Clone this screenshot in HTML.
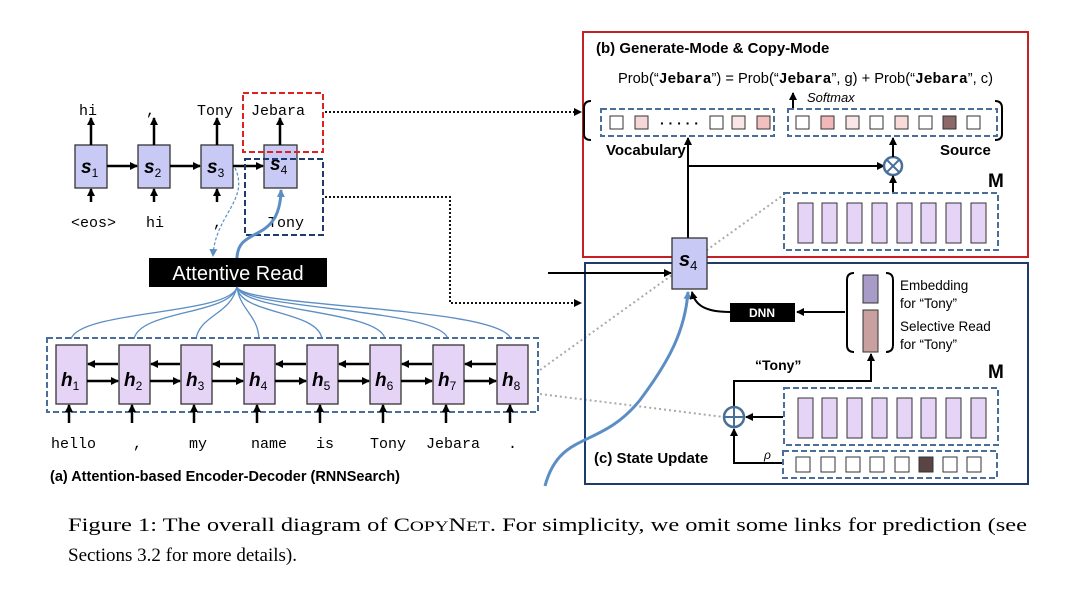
<!DOCTYPE html>
<html><head><meta charset="utf-8"><style>
body{margin:0;background:#fff;width:1080px;height:592px;overflow:hidden}
svg text{font-family:"Liberation Sans",sans-serif}
.m{font-family:"Liberation Mono",monospace!important}
</style></head><body>
<svg width="1080" height="592" viewBox="0 0 1080 592" xmlns="http://www.w3.org/2000/svg">
<defs>
<marker id="a" markerWidth="8" markerHeight="8" refX="7" refY="4" orient="auto" markerUnits="userSpaceOnUse"><path d="M0,0 L8,4 L0,8z" fill="#000"/></marker>
<marker id="b" markerWidth="8" markerHeight="8" refX="7" refY="4" orient="auto" markerUnits="userSpaceOnUse"><path d="M0,0 L8,4 L0,8z" fill="#5b8ec4"/></marker>
</defs>
<!-- decoder -->
<g fill="#c9c9f5" stroke="#333" stroke-width="1.3">
<rect x="75" y="145" width="32" height="43"/><rect x="138" y="145" width="32" height="43"/><rect x="201" y="145" width="32" height="43"/><rect x="264" y="145" width="33" height="43"/>
</g>
<g font-weight="bold" font-style="italic" font-size="19">
<text x="81" y="173">s<tspan font-size="12" font-weight="normal" font-style="normal" dy="4">1</tspan></text>
<text x="144" y="173">s<tspan font-size="12" font-weight="normal" font-style="normal" dy="4">2</tspan></text>
<text x="207" y="173">s<tspan font-size="12" font-weight="normal" font-style="normal" dy="4">3</tspan></text>
<text x="270" y="170">s<tspan font-size="12" font-weight="normal" font-style="normal" dy="4">4</tspan></text>
</g>
<g stroke="#000" stroke-width="2.5" marker-end="url(#a)">
<line x1="91" y1="145" x2="91" y2="118"/><line x1="154" y1="145" x2="154" y2="118"/><line x1="217" y1="145" x2="217" y2="118"/><line x1="280" y1="145" x2="280" y2="118"/>
<line x1="91" y1="202" x2="91" y2="189"/><line x1="154" y1="202" x2="154" y2="189"/><line x1="217" y1="202" x2="217" y2="189"/>
<line x1="107" y1="166" x2="137" y2="166"/><line x1="170" y1="166" x2="200" y2="166"/><line x1="233" y1="166" x2="263" y2="166"/>
</g>
<g font-size="15">
<text x="79" y="115" class="m">hi</text><text x="146" y="115" class="m">,</text><text x="197" y="115" class="m">Tony</text><text x="251" y="115" class="m">Jebara</text>
<text x="71" y="227" class="m">&lt;eos&gt;</text><text x="146" y="227" class="m">hi</text><text x="213" y="227" class="m">,</text><text x="268" y="227" class="m">Tony</text>
</g>
<rect x="243" y="93" width="80" height="59" fill="none" stroke="#d22" stroke-width="2" stroke-dasharray="6,3"/>
<rect x="245" y="159" width="78" height="76" fill="none" stroke="#1e3a6e" stroke-width="2" stroke-dasharray="6,3"/>
<path d="M235,168 C250,200 215,215 213,256" fill="none" stroke="#5b8ec4" stroke-width="1.2" stroke-dasharray="3,2" marker-end="url(#b)"/>
<path d="M237,258 C238,225 280,245 281,190" fill="none" stroke="#5b8ec4" stroke-width="3" marker-end="url(#b)"/>
<rect x="149" y="258" width="178" height="29" fill="#000"/>
<text x="238" y="280" fill="#fff" font-size="20" text-anchor="middle">Attentive Read</text>
<g fill="none" stroke="#5b8ec4" stroke-width="1.3">
<path d="M237,287 C230,315 80,310 71,339"/><path d="M237,287 C230,315 140,310 134,339"/><path d="M237,287 C230,315 200,315 196,339"/><path d="M237,287 C240,310 258,315 259,339"/>
<path d="M237,287 C240,315 318,310 322,339"/><path d="M237,287 C245,312 380,310 385,339"/><path d="M237,287 C245,310 440,308 448,339"/><path d="M237,287 C245,308 500,306 511,339"/>
</g>
<!-- encoder -->
<rect x="47" y="338" width="491" height="74" fill="none" stroke="#4a6e9a" stroke-width="2" stroke-dasharray="6,3"/>
<g fill="#e6d4f7" stroke="#333" stroke-width="1.3">
<rect x="56" y="345" width="31" height="59"/><rect x="119" y="345" width="31" height="59"/><rect x="181" y="345" width="31" height="59"/><rect x="244" y="345" width="31" height="59"/>
<rect x="307" y="345" width="31" height="59"/><rect x="370" y="345" width="31" height="59"/><rect x="433" y="345" width="31" height="59"/><rect x="497" y="345" width="31" height="59"/>
</g>
<g font-weight="bold" font-style="italic" font-size="19">
<text x="61" y="386">h<tspan font-size="12" font-weight="normal" font-style="normal" dy="4">1</tspan></text>
<text x="124" y="386">h<tspan font-size="12" font-weight="normal" font-style="normal" dy="4">2</tspan></text>
<text x="186" y="386">h<tspan font-size="12" font-weight="normal" font-style="normal" dy="4">3</tspan></text>
<text x="249" y="386">h<tspan font-size="12" font-weight="normal" font-style="normal" dy="4">4</tspan></text>
<text x="312" y="386">h<tspan font-size="12" font-weight="normal" font-style="normal" dy="4">5</tspan></text>
<text x="375" y="386">h<tspan font-size="12" font-weight="normal" font-style="normal" dy="4">6</tspan></text>
<text x="438" y="386">h<tspan font-size="12" font-weight="normal" font-style="normal" dy="4">7</tspan></text>
<text x="502" y="386">h<tspan font-size="12" font-weight="normal" font-style="normal" dy="4">8</tspan></text>
</g>
<g stroke="#000" stroke-width="2.5" marker-end="url(#a)">
<line x1="87" y1="381" x2="118" y2="381"/><line x1="150" y1="381" x2="180" y2="381"/><line x1="212" y1="381" x2="243" y2="381"/><line x1="275" y1="381" x2="306" y2="381"/><line x1="338" y1="381" x2="369" y2="381"/><line x1="401" y1="381" x2="432" y2="381"/><line x1="464" y1="381" x2="496" y2="381"/>
<line x1="118" y1="364" x2="88" y2="364"/><line x1="180" y1="364" x2="151" y2="364"/><line x1="243" y1="364" x2="213" y2="364"/><line x1="306" y1="364" x2="276" y2="364"/><line x1="369" y1="364" x2="339" y2="364"/><line x1="432" y1="364" x2="402" y2="364"/><line x1="496" y1="364" x2="465" y2="364"/>
<line x1="69" y1="423" x2="69" y2="405"/><line x1="132" y1="423" x2="132" y2="405"/><line x1="194" y1="423" x2="194" y2="405"/><line x1="257" y1="423" x2="257" y2="405"/><line x1="320" y1="423" x2="320" y2="405"/><line x1="383" y1="423" x2="383" y2="405"/><line x1="446" y1="423" x2="446" y2="405"/><line x1="510" y1="423" x2="510" y2="405"/>
</g>
<g font-size="15">
<text x="51" y="448" class="m">hello</text><text x="133" y="448" class="m">,</text><text x="189" y="448" class="m">my</text><text x="251" y="448" class="m">name</text><text x="316" y="448" class="m">is</text><text x="370" y="448" class="m">Tony</text><text x="426" y="448" class="m">Jebara</text><text x="508" y="448" class="m">.</text>
</g>
<text x="50" y="481" font-size="14.5" font-weight="bold">(a) Attention-based Encoder-Decoder (RNNSearch)</text>
<g fill="none" stroke="#111" stroke-width="2" stroke-dasharray="2,2">
<path d="M325,112 L575,112"/><path d="M325,197 L450,197 L450,303 L575,303"/>
</g>
<path d="M574,108 L582,112 L574,116z"/><path d="M574,299 L582,303 L574,307z"/>
<g fill="none" stroke="#aaa" stroke-width="2" stroke-dasharray="2,3">
<path d="M540,370 L782,196"/><path d="M540,394 L724,417"/>
</g>
<!-- panel b -->
<rect x="583" y="32" width="445" height="225" fill="none" stroke="#c42025" stroke-width="2"/>
<text x="596" y="53" font-size="15" font-weight="bold">(b) Generate-Mode &amp; Copy-Mode</text>
<text x="618" y="83" font-size="15" textLength="375" lengthAdjust="spacingAndGlyphs">Prob(“<tspan class="m" font-weight="bold">Jebara</tspan>”) = Prob(“<tspan class="m" font-weight="bold">Jebara</tspan>”, g) + Prob(“<tspan class="m" font-weight="bold">Jebara</tspan>”, c)</text>
<text x="807" y="102" font-size="13" font-style="italic">Softmax</text>
<line x1="793" y1="108" x2="793" y2="93" stroke="#000" stroke-width="2" marker-end="url(#a)"/>
<path d="M591,101 Q584,101 584,108 L584,134 Q584,140 591,140" fill="none" stroke="#000" stroke-width="2"/>
<path d="M995,101 Q1002,101 1002,108 L1002,134 Q1002,140 995,140" fill="none" stroke="#000" stroke-width="2"/>
<rect x="601" y="109" width="173" height="27" fill="none" stroke="#4a6e9a" stroke-width="2" stroke-dasharray="6,3"/>
<rect x="788" y="109" width="209" height="27" fill="none" stroke="#4a6e9a" stroke-width="2" stroke-dasharray="6,3"/>
<g stroke="#333" stroke-width="1">
<rect x="610" y="116" width="13" height="13" fill="#fff"/><rect x="635" y="116" width="13" height="13" fill="#f6d6d6"/>
<rect x="710" y="116" width="13" height="13" fill="#fff"/><rect x="732" y="116" width="13" height="13" fill="#fae6e6"/><rect x="757" y="116" width="13" height="13" fill="#f3c0c0"/>
<rect x="796" y="116" width="13" height="13" fill="#fff"/><rect x="821" y="116" width="13" height="13" fill="#f0b8b8"/><rect x="846" y="116" width="13" height="13" fill="#fae6e6"/><rect x="870" y="116" width="13" height="13" fill="#fff"/><rect x="895" y="116" width="13" height="13" fill="#f8dada"/><rect x="919" y="116" width="13" height="13" fill="#fff"/><rect x="943" y="116" width="13" height="13" fill="#8c6868"/><rect x="967" y="116" width="13" height="13" fill="#fff"/>
</g>
<text x="660" y="128" font-size="14" font-weight="bold">· · ·   · ·</text>
<text x="606" y="155" font-size="15" font-weight="bold">Vocabulary</text>
<text x="940" y="155" font-size="15" font-weight="bold">Source</text>
<line x1="688" y1="238" x2="688" y2="138" stroke="#000" stroke-width="2" marker-end="url(#a)"/>
<line x1="688" y1="166" x2="884" y2="166" stroke="#000" stroke-width="2" marker-end="url(#a)"/>
<circle cx="893" cy="166" r="9" fill="#fff" stroke="#4a6e9a" stroke-width="2.5"/>
<path d="M887,160 L899,172 M899,160 L887,172" stroke="#4a6e9a" stroke-width="2"/>
<line x1="893" y1="157" x2="893" y2="138" stroke="#000" stroke-width="2" marker-end="url(#a)"/>
<line x1="893" y1="193" x2="893" y2="176" stroke="#000" stroke-width="2" marker-end="url(#a)"/>
<text x="988" y="187" font-size="19" font-weight="bold">M</text>
<rect x="784" y="193" width="214" height="57" fill="none" stroke="#4a6e9a" stroke-width="2" stroke-dasharray="6,3"/>
<g fill="#e6d4f7" stroke="#333" stroke-width="1">
<rect x="798" y="203" width="15" height="40"/><rect x="822" y="203" width="15" height="40"/><rect x="847" y="203" width="15" height="40"/><rect x="872" y="203" width="15" height="40"/><rect x="897" y="203" width="15" height="40"/><rect x="921" y="203" width="15" height="40"/><rect x="946" y="203" width="15" height="40"/><rect x="971" y="203" width="15" height="40"/>
</g>
<!-- panel c -->
<rect x="585" y="263" width="443" height="221" fill="none" stroke="#1e3a6e" stroke-width="2"/>
<line x1="548" y1="273" x2="671" y2="273" stroke="#000" stroke-width="2" marker-end="url(#a)"/>
<path d="M545,486 C560,430 600,450 640,400 C670,360 685,330 688,292" fill="none" stroke="#5b8ec4" stroke-width="3" marker-end="url(#b)"/>
<rect x="672" y="238" width="35" height="51" fill="#c9c9f5" stroke="#333" stroke-width="1.3"/>
<text x="679" y="266" font-size="20" font-weight="bold" font-style="italic">s<tspan font-size="13" font-weight="normal" font-style="normal" dy="4">4</tspan></text>
<path d="M730,312 C705,312 695,305 692,292" fill="none" stroke="#000" stroke-width="2" marker-end="url(#a)"/>
<rect x="730" y="303" width="65" height="19" fill="#000"/>
<text x="762" y="317" fill="#fff" font-size="12" font-weight="bold" text-anchor="middle">DNN</text>
<line x1="845" y1="312" x2="797" y2="312" stroke="#000" stroke-width="2" marker-end="url(#a)"/>
<path d="M854,273 Q847,273 847,280 L847,345 Q847,352 854,352" fill="none" stroke="#000" stroke-width="2"/>
<path d="M886,273 Q893,273 893,280 L893,345 Q893,352 886,352" fill="none" stroke="#000" stroke-width="2"/>
<rect x="863" y="275" width="15" height="28" fill="#a89bc8" stroke="#333"/>
<rect x="863" y="310" width="15" height="42" fill="#c9a0a0" stroke="#333"/>
<g font-size="13.5"><text x="900" y="290">Embedding</text><text x="900" y="308">for “Tony”</text><text x="900" y="331">Selective Read</text><text x="900" y="349">for “Tony”</text></g>
<text x="755" y="370" font-size="14" font-weight="bold">“Tony”</text>
<path d="M734,407 L734,381 L871,381 L871,354" fill="none" stroke="#000" stroke-width="2" marker-end="url(#a)"/>
<circle cx="734" cy="417" r="10" fill="#fff" stroke="#4a6e9a" stroke-width="2.5"/>
<path d="M724,417 L744,417 M734,407 L734,427" stroke="#4a6e9a" stroke-width="2"/>
<line x1="783" y1="417" x2="746" y2="417" stroke="#000" stroke-width="2" marker-end="url(#a)"/>
<path d="M783,463 L734,463 L734,429" fill="none" stroke="#000" stroke-width="2" marker-end="url(#a)"/>
<text x="764" y="459" font-size="12" font-style="italic">ρ</text>
<text x="988" y="378" font-size="19" font-weight="bold">M</text>
<rect x="784" y="388" width="214" height="57" fill="none" stroke="#4a6e9a" stroke-width="2" stroke-dasharray="6,3"/>
<g fill="#e6d4f7" stroke="#333" stroke-width="1">
<rect x="798" y="398" width="15" height="40"/><rect x="822" y="398" width="15" height="40"/><rect x="847" y="398" width="15" height="40"/><rect x="872" y="398" width="15" height="40"/><rect x="897" y="398" width="15" height="40"/><rect x="921" y="398" width="15" height="40"/><rect x="946" y="398" width="15" height="40"/><rect x="971" y="398" width="15" height="40"/>
</g>
<rect x="783" y="451" width="214" height="27" fill="none" stroke="#4a6e9a" stroke-width="2" stroke-dasharray="6,3"/>
<g stroke="#333" stroke-width="1" fill="#fff">
<rect x="796" y="457" width="14" height="15"/><rect x="821" y="457" width="14" height="15"/><rect x="846" y="457" width="14" height="15"/><rect x="870" y="457" width="14" height="15"/><rect x="895" y="457" width="14" height="15"/><rect x="919" y="457" width="14" height="15" fill="#5a4444"/><rect x="943" y="457" width="14" height="15"/><rect x="967" y="457" width="14" height="15"/>
</g>
<text x="594" y="463" font-size="15" font-weight="bold">(c) State Update</text>
<!-- caption -->
<text x="68" y="531" font-size="19" style="font-family:'Liberation Serif',serif" textLength="959" lengthAdjust="spacingAndGlyphs">Figure 1:  The overall diagram of C<tspan font-size="15">OPY</tspan>N<tspan font-size="15">ET</tspan>.  For simplicity, we omit some links for prediction (see</text>
<text x="68" y="561" font-size="19" style="font-family:'Liberation Serif',serif">Sections 3.2 for more details).</text>
</svg>
</body></html>
